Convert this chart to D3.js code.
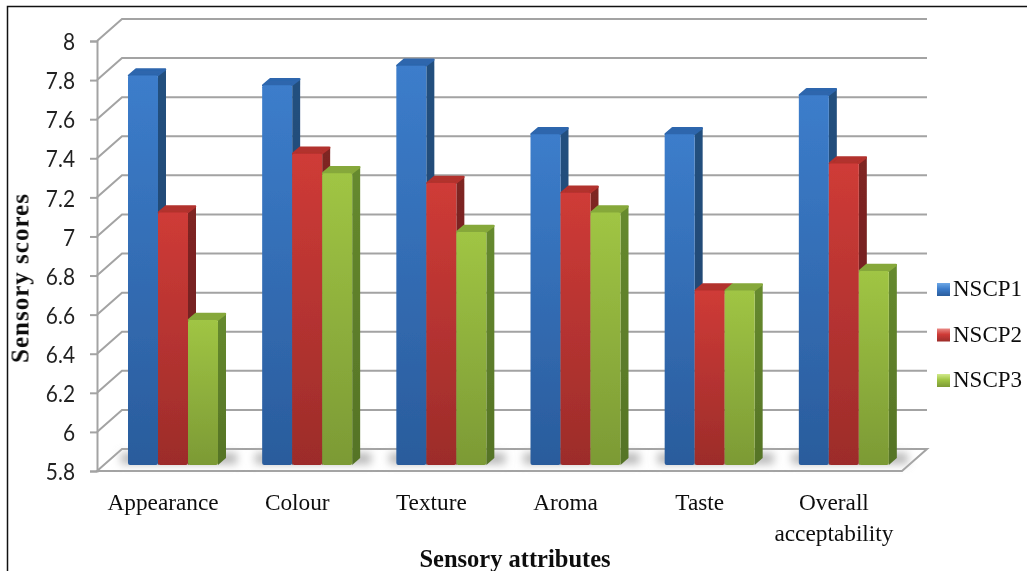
<!DOCTYPE html>
<html>
<head>
<meta charset="utf-8">
<script src="https://cdn.jsdelivr.net/npm/d3@7/dist/d3.min.js"></script>
<style>
html, body { margin: 0; padding: 0; background: #fff; overflow: hidden; }
svg { display: block; }
</style>
</head>
<body>
<svg width="1027" height="571"></svg>
<script>
var categories = ["Appearance", "Colour", "Texture", "Aroma", "Taste", "Overall acceptability"];
var seriesNames = ["NSCP1", "NSCP2", "NSCP3"];
var nscp1 = [7.8, 7.75, 7.85, 7.5, 7.5, 7.7];
var nscp2 = [7.1, 7.4, 7.25, 7.2, 6.7, 7.35];
var nscp3 = [6.55, 7.3, 7.0, 7.1, 6.7, 6.8];
var yTicks = [5.8, 6, 6.2, 6.4, 6.6, 6.8, 7, 7.2, 7.4, 7.6, 7.8, 8];
var seriesValues = [nscp1, nscp2, nscp3];

var page = d3.select("svg");
var defs = page.append("defs");

var x = d3.scaleBand().domain(categories).range([97, 902]);
var xInner = d3.scaleBand().domain(seriesNames).range([31, 121]);
var y = d3.scaleLinear().domain([5.8, 8]).range([471, 41]);

// depth of the chart box and of the bars
var wallX = 25, wallY = 22, barX = 8, barY = 7, barShift = 4.5, baseShift = 6;

var colors = [
    {light: "#3c7dcb", dark: "#2a5c9c", side: "#24507f", top: "#2d66ad", hi: "#6fa8e6"},
    {light: "#cf3b37", dark: "#9c2c2a", side: "#7f2523", top: "#b2302d", hi: "#ea8a86"},
    {light: "#a0c544", dark: "#7c9a35", side: "#668a2e", top: "#86a83a", hi: "#d2ea8c"}
];

colors.forEach(function(c, i) {
    var g = defs.append("linearGradient").attr("id", "front" + i)
        .attr("x1", 0).attr("y1", 0).attr("x2", 0).attr("y2", 1);
    g.append("stop").attr("offset", "0%").attr("stop-color", c.light);
    g.append("stop").attr("offset", "100%").attr("stop-color", c.dark);
    var s = defs.append("linearGradient").attr("id", "side" + i)
        .attr("x1", 0).attr("y1", 0).attr("x2", 0).attr("y2", 1);
    s.append("stop").attr("offset", "0%").attr("stop-color", c.side);
    s.append("stop").attr("offset", "100%").attr("stop-color", d3.color(c.side).darker(0.5));
    var k = defs.append("linearGradient").attr("id", "key" + i)
        .attr("x1", 0).attr("y1", 0).attr("x2", 0).attr("y2", 1);
    k.append("stop").attr("offset", "0%").attr("stop-color", c.hi);
    k.append("stop").attr("offset", "45%").attr("stop-color", c.light);
    k.append("stop").attr("offset", "100%").attr("stop-color", c.dark);
});

defs.append("filter").attr("id", "soft")
    .attr("filterUnits", "userSpaceOnUse")
    .attr("x", 0).attr("y", 0).attr("width", 1027).attr("height", 571)
    .append("feGaussianBlur").attr("stdDeviation", 0.5);
defs.append("filter").attr("id", "shadow").attr("x", "-30%").attr("y", "-100%").attr("width", "160%").attr("height", "300%")
    .append("feGaussianBlur").attr("stdDeviation", 4);

// outer frame
page.append("path")
    .attr("d", "M7.5,571V6.5H1027")
    .attr("fill", "none")
    .attr("stroke", "#111")
    .attr("stroke-width", 1.5);

// the source image is a soft scan, so everything but the frame is blurred a little
var svg = page.append("g").attr("filter", "url(#soft)");

var walls = svg.append("g")
    .attr("fill", "none")
    .attr("stroke", "#a3a3a3")
    .attr("stroke-width", 2);

// back wall grid, side wall diagonals, floor
walls.selectAll(".grid")
    .data(yTicks.slice(1))
    .enter().append("path")
    .attr("class", "grid")
    .attr("d", function(d) {
        return "M97," + y(d) + "L" + (97 + wallX) + "," + (y(d) - wallY) + "H" + (902 + wallX);
    });

walls.append("path")
    .attr("d", "M97," + y(5.8) + "L" + (97 + wallX) + "," + (y(5.8) - wallY) + "H" + (902 + wallX)
        + "L902," + y(5.8) + "Z")
    .attr("fill", "#fff");

// bar shadows on the floor
var shadows = svg.append("g");
shadows.selectAll("rect")
    .data(categories)
    .enter().append("rect")
    .attr("x", function(d) { return x(d) + 24; })
    .attr("y", y(5.8) - baseShift - 12)
    .attr("width", 116)
    .attr("height", 11)
    .attr("fill", "#b8b8b8")
    .attr("filter", "url(#shadow)");

var axis = svg.append("g")
    .attr("transform", "translate(97,0)")
    .call(d3.axisLeft(y).tickValues(yTicks).tickSize(7).tickPadding(15).tickFormat(function(d) { return d; }));
axis.select(".domain").attr("stroke", "#a3a3a3").attr("stroke-width", 2);
axis.selectAll(".tick line").attr("stroke", "#a3a3a3").attr("stroke-width", 2);
// the tick font in the picture is narrower than Lato, so squeeze it sideways
axis.selectAll(".tick text")
    .attr("fill", "#222")
    .attr("x", -22 / 0.87)
    .attr("dy", "0.36em")
    .attr("transform", "scale(0.87,1)")
    .style("font-family", "Lato, sans-serif")
    .style("font-size", "24px");

// bars: blue, then red, then green on top of it
seriesNames.forEach(function(name, i) {
    var g = svg.append("g").attr("class", "series");
    var bars = g.selectAll("g")
        .data(seriesValues[i])
        .enter().append("g");
    var w = xInner.bandwidth();
    var left = function(d, j) { return x(categories[j]) + xInner(name); };
    var top = function(d) { return y(d) - barShift; };
    var bottom = y(5.8) - baseShift;

    bars.append("path")
        .attr("d", function(d, j) {
            var a = left(d, j) + w;
            return "M" + a + "," + top(d) + "L" + (a + barX) + "," + (top(d) - barY)
                + "V" + (bottom - barY) + "L" + a + "," + bottom + "Z";
        })
        .attr("fill", "url(#side" + i + ")")
        .attr("stroke", "none");

    bars.append("path")
        .attr("d", function(d, j) {
            var a = left(d, j);
            return "M" + (a + 1) + "," + top(d) + "L" + (a + barX) + "," + (top(d) - barY + 1)
                + "H" + (a + w + barX - 1) + "L" + (a + w - 1) + "," + top(d) + "Z";
        })
        .attr("fill", colors[i].top)
        .attr("stroke", colors[i].top)
        .attr("stroke-width", 2.5)
        .attr("stroke-linejoin", "round");

    bars.append("rect")
        .attr("x", left)
        .attr("y", top)
        .attr("width", w)
        .attr("height", function(d) { return bottom - top(d); })
        .attr("rx", 2)
        .attr("fill", "url(#front" + i + ")");
});

// category labels
var labels = svg.append("g")
    .style("font-family", "'Liberation Serif', serif")
    .style("font-size", "23.3px")
    .attr("fill", "#111")
    .attr("text-anchor", "middle");

labels.selectAll("text")
    .data(categories)
    .enter().append("text")
    .attr("y", 510)
    .each(function(d) {
        var el = d3.select(this), parts = d.split(" ");
        parts.forEach(function(p, k) {
            el.append("tspan")
                .attr("x", x(d) + x.bandwidth() / 2 - 1)
                .attr("dy", k ? 31 : 0)
                .text(p);
        });
    });

// axis titles
svg.append("text")
    .attr("x", 515).attr("y", 567)
    .attr("text-anchor", "middle")
    .style("font-family", "'Liberation Serif', serif")
    .style("font-size", "24.5px")
    .style("font-weight", "bold")
    .attr("fill", "#111")
    .text("Sensory attributes");

svg.append("text")
    .attr("transform", "translate(28.5,278) rotate(-90)")
    .attr("text-anchor", "middle")
    .style("font-family", "'Liberation Serif', serif")
    .style("font-size", "25px")
    .style("letter-spacing", "1px")
    .style("font-weight", "bold")
    .attr("fill", "#111")
    .text("Sensory scores");

// legend
var legendY = d3.scalePoint().domain(seriesNames).range([289, 380]);
var legend = svg.append("g").selectAll("g")
    .data(seriesNames)
    .enter().append("g")
    .attr("transform", function(d) { return "translate(937," + legendY(d) + ")"; });

legend.append("rect")
    .attr("x", 0).attr("y", -6)
    .attr("width", 13).attr("height", 13)
    .attr("fill", function(d, i) { return "url(#key" + i + ")"; });

legend.append("text")
    .attr("x", 16).attr("y", 7)
    .style("font-family", "'Liberation Serif', serif")
    .style("font-size", "23px")
    .attr("fill", "#111")
    .text(function(d) { return d; });
</script>
</body>
</html>
